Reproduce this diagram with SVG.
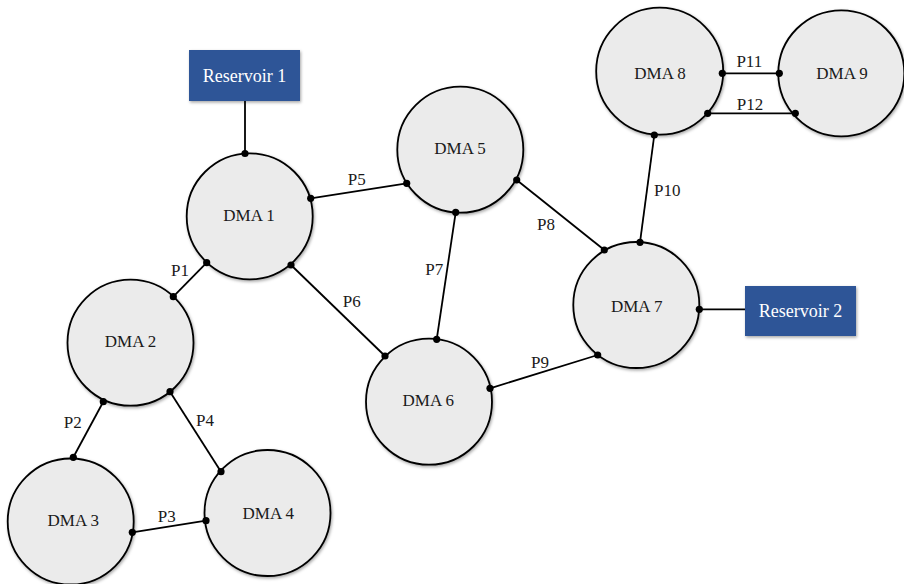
<svg xmlns="http://www.w3.org/2000/svg" width="904" height="584" viewBox="0 0 904 584">
<defs>
<filter id="sh" x="-20%" y="-20%" width="140%" height="140%">
<feDropShadow dx="1" dy="1.5" stdDeviation="1.5" flood-color="#000" flood-opacity="0.35"/>
</filter>
<style>
.dma{fill:#ebebeb;stroke:#000;stroke-width:1.8;filter:url(#sh)}
.res{fill:#2f5597;filter:url(#sh)}
.lbl{font-family:"Liberation Serif","Times New Roman",serif;font-size:17px;fill:#1a1a1a;text-anchor:middle;dominant-baseline:central}
.rt{font-family:"Liberation Serif","Times New Roman",serif;font-size:18px;fill:#fff;text-anchor:middle;dominant-baseline:central}
.pipe{stroke:#000;stroke-width:1.8;fill:none}
.dot{fill:#000}
</style>
</defs>
<rect width="904" height="584" fill="#fff"/>
<g id="connectors">
<line class="pipe" x1="245" y1="101" x2="245" y2="153.5"/>
<line class="pipe" x1="206.7" y1="262.7" x2="173.3" y2="296.7"/>
<line class="pipe" x1="103.3" y1="401.7" x2="73.3" y2="457.3"/>
<line class="pipe" x1="132.3" y1="532.3" x2="206" y2="520.7"/>
<line class="pipe" x1="170" y1="391.7" x2="221" y2="471.7"/>
<line class="pipe" x1="310.7" y1="198.3" x2="406.7" y2="183.3"/>
<line class="pipe" x1="291" y1="265" x2="385" y2="356"/>
<line class="pipe" x1="455.7" y1="212.3" x2="436.7" y2="339.3"/>
<line class="pipe" x1="516.7" y1="180" x2="604.3" y2="250"/>
<line class="pipe" x1="490" y1="388.3" x2="597.7" y2="355"/>
<line class="pipe" x1="654.3" y1="135" x2="640" y2="242.3"/>
<line class="pipe" x1="722.3" y1="73.3" x2="779.3" y2="73.3"/>
<line class="pipe" x1="707.7" y1="113.3" x2="795.3" y2="113.3"/>
<line class="pipe" x1="699.3" y1="309.3" x2="745" y2="309.3"/>
<text class="lbl" x="180" y="270">P1</text>
<text class="lbl" x="72.7" y="422">P2</text>
<text class="lbl" x="166.7" y="516">P3</text>
<text class="lbl" x="205" y="420">P4</text>
<text class="lbl" x="356.7" y="179.5">P5</text>
<text class="lbl" x="351.7" y="301">P6</text>
<text class="lbl" x="434.3" y="269.5">P7</text>
<text class="lbl" x="546" y="224">P8</text>
<text class="lbl" x="540" y="362">P9</text>
<text class="lbl" x="667.3" y="190.5">P10</text>
<text class="lbl" x="749.3" y="61.5">P11</text>
<text class="lbl" x="750" y="104.5">P12</text>
</g>
<g id="reservoir1"><rect class="res" x="189" y="50" width="111" height="51"/><text class="rt" x="244.5" y="75.5">Reservoir 1</text></g>
<g id="reservoir2"><rect class="res" x="745" y="286" width="111" height="50"/><text class="rt" x="800.5" y="311">Reservoir 2</text></g>
<g id="dma1"><circle class="dma" cx="249.7" cy="216.3" r="63"/><text class="lbl" x="249" y="215.5">DMA 1</text></g>
<g id="dma2"><circle class="dma" cx="130.5" cy="342.7" r="63"/><text class="lbl" x="130.5" y="341.7">DMA 2</text></g>
<g id="dma3"><circle class="dma" cx="70.7" cy="521.5" r="63"/><text class="lbl" x="73.3" y="520.7">DMA 3</text></g>
<g id="dma4"><circle class="dma" cx="267.5" cy="513" r="63"/><text class="lbl" x="268.3" y="513.3">DMA 4</text></g>
<g id="dma5"><circle class="dma" cx="460.3" cy="149.7" r="63"/><text class="lbl" x="460" y="148.5">DMA 5</text></g>
<g id="dma6"><circle class="dma" cx="429" cy="401.7" r="63"/><text class="lbl" x="428.3" y="400">DMA 6</text></g>
<g id="dma7"><circle class="dma" cx="636.3" cy="305" r="63"/><text class="lbl" x="636.7" y="306.5">DMA 7</text></g>
<g id="dma8"><circle class="dma" cx="659.7" cy="71.2" r="63.5"/><text class="lbl" x="660" y="73.3">DMA 8</text></g>
<g id="dma9"><circle class="dma" cx="841.3" cy="73.3" r="63"/><text class="lbl" x="842" y="73.3">DMA 9</text></g>
<g id="dots">
<circle class="dot" cx="245" cy="153.5" r="3.6"/>
<circle class="dot" cx="206.7" cy="262.7" r="3.6"/>
<circle class="dot" cx="173.3" cy="296.7" r="3.6"/>
<circle class="dot" cx="103.3" cy="401.7" r="3.6"/>
<circle class="dot" cx="73.3" cy="457.3" r="3.6"/>
<circle class="dot" cx="132.3" cy="532.3" r="3.6"/>
<circle class="dot" cx="206" cy="520.7" r="3.6"/>
<circle class="dot" cx="170" cy="391.7" r="3.6"/>
<circle class="dot" cx="221" cy="471.7" r="3.6"/>
<circle class="dot" cx="310.7" cy="198.3" r="3.6"/>
<circle class="dot" cx="406.7" cy="183.3" r="3.6"/>
<circle class="dot" cx="291" cy="265" r="3.6"/>
<circle class="dot" cx="385" cy="356" r="3.6"/>
<circle class="dot" cx="455.7" cy="212.3" r="3.6"/>
<circle class="dot" cx="436.7" cy="339.3" r="3.6"/>
<circle class="dot" cx="516.7" cy="180" r="3.6"/>
<circle class="dot" cx="604.3" cy="250" r="3.6"/>
<circle class="dot" cx="490" cy="388.3" r="3.6"/>
<circle class="dot" cx="597.7" cy="355" r="3.6"/>
<circle class="dot" cx="654.3" cy="135" r="3.6"/>
<circle class="dot" cx="640" cy="242.3" r="3.6"/>
<circle class="dot" cx="722.3" cy="73.3" r="3.6"/>
<circle class="dot" cx="779.3" cy="73.3" r="3.6"/>
<circle class="dot" cx="707.7" cy="113.3" r="3.6"/>
<circle class="dot" cx="795.3" cy="113.3" r="3.6"/>
<circle class="dot" cx="699.3" cy="309.3" r="3.6"/>
</g>
</svg>
